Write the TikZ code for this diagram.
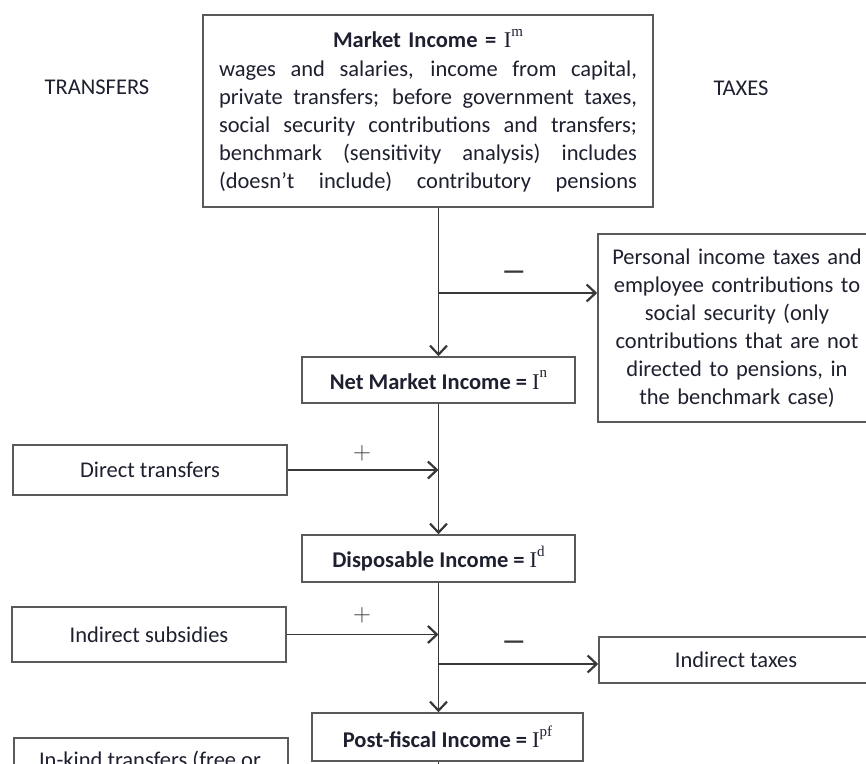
\documentclass[tikz,border=0pt]{standalone}
\usepackage{fontspec}
\setmainfont{Carlito}
\newfontfamily\serfI{Liberation Serif}
\usetikzlibrary{arrows.meta,calc}
\definecolor{txtc}{HTML}{1E2030}
\definecolor{linec}{HTML}{383838}
\definecolor{boxc}{HTML}{5A5A5A}
\newcommand\jline[1]{\makebox[418pt][s]{\spaceskip=0.25em plus 1fil\relax #1}}
\newcommand\incsym[1]{{\serfI I\raisebox{0.5em}{\fontsize{15}{15}\selectfont #1}}}
\begin{document}
\begin{tikzpicture}[x=1pt,y=-1pt,
  box/.style={draw=boxc, line width=1.6pt, inner sep=0pt, text=txtc, font=\fontsize{22.5}{28}\selectfont},
  lbl/.style={text=txtc, font=\fontsize{22.5}{28}\selectfont, inner sep=0pt},
  flow/.style={draw=linec, line width=1.7pt, -{Straight Barb[length=9pt,width=17pt,line width=2.2pt]}},
  joinline/.style={draw=linec, line width=1.7pt},
  plussign/.style={text=linec, font=\fontsize{28}{28}\selectfont, inner sep=0pt},
  minussign/.style={text=linec, font=\fontsize{26}{26}\selectfont\bfseries, inner sep=0pt}]
\useasboundingbox (0,0) rectangle (866,763);
\fill[white] (0,0) rectangle (866,763);

\node[lbl] (transfers) at (97,87) {TRANSFERS};
\node[lbl] (taxes) at (741,88) {TAXES};

\node[box, minimum width=450pt, minimum height=192pt, text width=418pt, align=center] (market) at (428,111)
{{\bfseries Market Income =} \incsym{m}\\[1pt]
\jline{wages and salaries, income from capital,}\\
\jline{private transfers; before government taxes,}\\
\jline{social security contributions and transfers;}\\
\jline{benchmark (sensitivity analysis) includes}\\
\jline{(doesn’t include) contributory pensions}};

\node[box, minimum width=278pt, minimum height=188pt, text width=270pt, align=center] (personal) at (737,328)
{Personal income taxes and\\ employee contributions to\\ social security (only\\ contributions that are not\\ directed to pensions, in\\ the benchmark case)};

\node[box, minimum width=273pt, minimum height=46pt] (net) at (438.5,380) {{\bfseries Net Market Income =} \incsym{n}};
\node[box, minimum width=273pt, minimum height=47pt] (disp) at (438.5,558.5) {{\bfseries Disposable Income =} \incsym{d}};
\node[box, minimum width=271pt, minimum height=48pt] (post) at (447.5,737) {{\bfseries Post-fiscal Income =} \incsym{pf}};

\node[box, minimum width=274pt, minimum height=50pt] (direct) at (150,470) {Direct transfers};
\node[box, minimum width=274pt, minimum height=55pt] (subs) at (149,634.5) {Indirect subsidies};
\node[box, minimum width=274pt, minimum height=46pt] (itax) at (736,660) {Indirect taxes};
\node[box, minimum width=274pt, minimum height=80pt, anchor=north west] (inkind) at (13,737) {};
\node[lbl] (inkindtxt) at (150,761) {In-kind transfers (free or};

\draw[flow] (net.north |- market.south) -- (net.north);
\coordinate (b1) at (438.5,293);
\draw[flow] (b1) -- (b1 -| personal.west);
\draw[flow] (net.south) -- (disp.north);
\draw[flow] (direct.east) -- (direct.east -| net.south);
\draw[flow] (disp.south) -- (disp.south |- post.north);
\draw[flow] (subs.east) -- (subs.east -| disp.south);
\coordinate (b2) at (438.5,664);
\draw[flow] (b2) -- (b2 -| itax.west);
\coordinate (bot) at (438.5,775);
\draw[joinline] (disp.south |- post.south) -- (bot);

\node[minussign] (m1) at (514,275) {—};
\node[minussign] (m2) at (514,645) {—};
\node[plussign] (p1) at (362,453) {$+$};
\node[plussign] (p2) at (362,615) {$+$};
\end{tikzpicture}
\end{document}
